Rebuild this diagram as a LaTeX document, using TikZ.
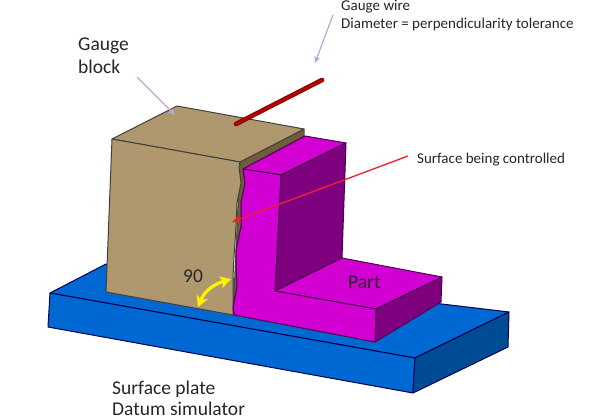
\documentclass[tikz,border=0pt]{standalone}
\usepackage{fontspec}
\setmainfont{Carlito}
\usetikzlibrary{arrows.meta}
\definecolor{tanc}{HTML}{B0986E}
\definecolor{brownc}{HTML}{6F5C38}
\definecolor{magc}{HTML}{D200D2}
\definecolor{purc}{HTML}{7E007E}
\definecolor{bluec}{HTML}{0068D2}
\definecolor{dbluec}{HTML}{004C94}
\definecolor{lavc}{HTML}{B9A5DA}
\definecolor{inkc}{HTML}{262626}
\definecolor{redc}{HTML}{F02030}
\tikzset{
 solid3d/.style={draw=#1,line width=1pt,line join=round},
 big/.style={anchor=base west,inner sep=0pt,text=inkc,font=\fontsize{19.5}{19.5}\selectfont},
 mid/.style={anchor=base west,inner sep=0pt,text=inkc,font=\fontsize{19.5}{19.5}\selectfont},
 small/.style={anchor=base west,inner sep=0pt,text=inkc,font=\fontsize{15}{15}\selectfont},
 leader/.style={lavc,line width=1.2pt,-{Stealth[length=7pt,width=6pt]}},
 redline/.style={redc,line width=1.3pt,-{Stealth[length=9pt,width=8pt]}},
}
\begin{document}
\begin{tikzpicture}[x=1pt,y=-1pt]
\useasboundingbox (0,0) rectangle (600,420);
% plate
\filldraw[fill=bluec,solid3d=black!70!blue] (50,293) -- (106,264) -- (509,312) -- (415,358) -- cycle;
\filldraw[fill=bluec,solid3d=black!70!blue] (50,293) -- (415,358) -- (413,393) -- (48,327) -- cycle;
\filldraw[fill=dbluec,solid3d=black!70!blue] (415,358) -- (509,312) -- (508,347) -- (413,393) -- cycle;
% block side strip
\filldraw[fill=brownc,solid3d=black!70] (240,162) -- (304,129) -- (304,136) -- (243,169) -- (245,183) -- (241,203) -- (241,227) -- (236,250) -- (236,260) -- (237,287) -- (233,307) -- (234,315) -- (233,315) -- cycle;
% block
\filldraw[fill=tanc,solid3d=black!75] (112,139) -- (177,106) -- (304,129) -- (240,162) -- cycle;
\filldraw[fill=tanc,solid3d=black!75] (112,139) -- (240,162) -- (239,167) -- (241,183) -- (237,203) -- (236,227) -- (234,257) -- (233,277) -- (233,315) -- (106,292) -- cycle;
% part
\filldraw[fill=magc,solid3d=black!40!purc] (243,169) -- (305,136) -- (346,143) -- (281,175) -- cycle;
\filldraw[fill=purc,solid3d=black!40!purc] (281,175) -- (346,143) -- (342,258) -- (275,291) -- cycle;
\filldraw[fill=magc,solid3d=black!40!purc] (275,291) -- (342,258) -- (442,277) -- (376,309) -- cycle;
\filldraw[fill=purc,solid3d=black!40!purc] (376,309) -- (442,277) -- (441,302) -- (375,342) -- cycle;
\filldraw[fill=magc,solid3d=black!40!purc] (243,169) -- (281,175) -- (275,291) -- (376,309) -- (375,342) -- (234,315) -- (233,307) -- (237,287) -- (236,260) -- (236,250) -- (241,227) -- (241,203) -- (245,183) -- cycle;
% wire
\draw[red!55!black,line width=4.6pt,line cap=round] (236,124) -- (322,80);
\draw[red!75!black,line width=2pt,line cap=round] (236,124) -- (322,80);
% labels
\node[big] (gauge) at (78,51) {Gauge};
\node[big] (block) at (78,74) {block};
\node[small] (wire) at (341,11) {Gauge wire};
\node[small] (dia) at (341,29) {Diameter = perpendicularity tolerance};
\node[small] (surf) at (417,163) {Surface being controlled};
\node[mid] (ninety) at (183,282) {90};
\node[mid] (part) at (348,288) {Part};
\node[mid] (plate) at (112,394) {Surface plate};
\node[mid] (datum) at (112,415) {Datum simulator};
% connector ends
\coordinate (blockstart) at (137,77);
\coordinate (blockend) at (175,115);
\coordinate (wirestart) at (333,15);
\coordinate (wireend) at (315,63);
\coordinate (surfstart) at (408,156);
\coordinate (surfend) at (232,222);
\coordinate (ninetya) at (231,279);
\coordinate (ninetyb) at (198,307);
\draw[leader] (blockstart) -- (blockend);
\draw[leader] (wirestart) -- (wireend);
\draw[redline] (surfstart) -- (surfend);
\draw[yellow,line width=3.2pt,{Stealth[length=11pt,width=12pt,inset=3pt]}-{Stealth[length=11pt,width=12pt,inset=3pt]}] (ninetyb) .. controls (205,290) and (215,284) .. (ninetya);
\end{tikzpicture}
\end{document}
